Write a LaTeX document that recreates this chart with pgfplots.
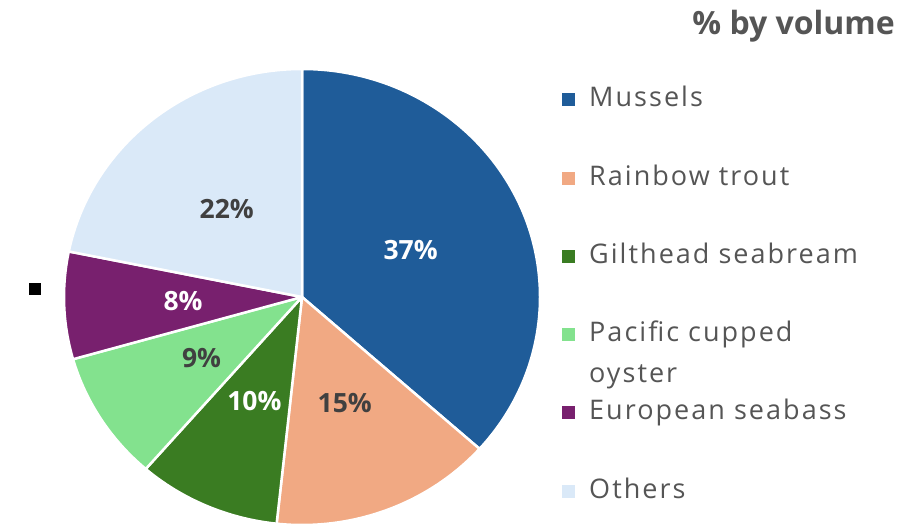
\documentclass[border=0pt]{standalone}
\usepackage{pgfplots}
\pgfplotsset{compat=1.18}
\usepackage{pgfplotstable}
\usepackage{fontspec}
\setmainfont{Open Sans}
\newfontfamily\legfont[LetterSpace=7.5]{Open Sans}
\definecolor{cMus}{HTML}{1F5C99}
\definecolor{cTro}{HTML}{F1A983}
\definecolor{cGil}{HTML}{3A7C22}
\definecolor{cPac}{HTML}{83E28E}
\definecolor{cSea}{HTML}{78206E}
\definecolor{cOth}{HTML}{DAE9F8}
\definecolor{txtgray}{HTML}{555555}
\definecolor{labdark}{HTML}{404040}

% share of volume (percent), fill colour, label colour
\pgfplotstableread[col sep=comma]{
name,value,col,lab
Mussels,36.6,cMus,white
Rainbow trout,15.1,cTro,labdark
Gilthead seabream,9.7,cGil,white
Pacific cupped oyster,9.2,cPac,labdark
European seabass,7.6,cSea,white
Others,21.8,cOth,labdark
}\piedata

\gdef\cum{0}
\foreach \i in {0,...,5}{%
  \pgfplotstablegetelem{\i}{value}\of\piedata
  \pgfmathsetmacro\v{\pgfplotsretval}%
  \pgfplotstablegetelem{\i}{col}\of\piedata
  \expandafter\xdef\csname pC\i\endcsname{\pgfplotsretval}%
  \pgfplotstablegetelem{\i}{lab}\of\piedata
  \expandafter\xdef\csname pT\i\endcsname{\pgfplotsretval}%
  \pgfmathsetmacro\s{90-3.6*\cum}%
  \pgfmathsetmacro\e{90-3.6*(\cum+\v)}%
  \pgfmathsetmacro\m{(\s+\e)/2}%
  \pgfmathsetmacro\sx{302+238*cos(\s)}%
  \pgfmathsetmacro\sy{228+228*sin(\s)}%
  \pgfmathsetmacro\lx{302+0.5*238*cos(\m)}%
  \pgfmathsetmacro\ly{228+0.5*228*sin(\m)}%
  \pgfmathtruncatemacro\r{round(\v)}%
  \expandafter\xdef\csname pS\i\endcsname{\s}%
  \expandafter\xdef\csname pE\i\endcsname{\e}%
  \expandafter\xdef\csname pSX\i\endcsname{\sx}%
  \expandafter\xdef\csname pSY\i\endcsname{\sy}%
  \expandafter\xdef\csname pLX\i\endcsname{\lx}%
  \expandafter\xdef\csname pLY\i\endcsname{\ly}%
  \expandafter\xdef\csname pR\i\endcsname{\r}%
  \pgfmathsetmacro\c{\cum+\v}\xdef\cum{\c}%
}

\begin{document}
\begin{tikzpicture}[x=1pt,y=1pt]
\useasboundingbox (0,0) rectangle (920,525);
\begin{axis}[
  at={(0,0)}, anchor=south west,
  width=920pt, height=525pt, scale only axis,
  xmin=0, xmax=920, ymin=0, ymax=525,
  hide axis, clip=false,
]
\pgfplotsinvokeforeach{0,...,5}{%
  \filldraw[fill=\csname pC#1\endcsname, draw=white, line width=2.5pt, line join=round]
    (axis cs:302,228) -- (axis cs:\csname pSX#1\endcsname,\csname pSY#1\endcsname)
    arc[start angle=\csname pS#1\endcsname, end angle=\csname pE#1\endcsname,
        x radius=238pt, y radius=228pt] -- cycle;
}
\pgfplotsinvokeforeach{0,...,5}{%
  \node[font=\bfseries\fontsize{26.5}{26.5}\selectfont, text=\csname pT#1\endcsname]
    at (axis cs:\csname pLX#1\endcsname,\csname pLY#1\endcsname) {\csname pR#1\endcsname\%};
}
% legend markers
\pgfplotsinvokeforeach{0,...,5}{%
  \fill[\csname pC#1\endcsname] (axis cs:562,{425-78.2*#1-6.5}) rectangle ++(13,13);
}
\begin{scope}[every node/.style={anchor=base west, inner sep=0pt, text=txtgray, font=\legfont\fontsize{27}{41}\selectfont}]
\node at (axis cs:589,418) {Mussels};
\node at (axis cs:589,339.8) {Rainbow trout};
\node at (axis cs:589,261.6) {Gilthead seabream};
\node[align=left] at (axis cs:589,142.4) {Pacific cupped\\oyster};
\node at (axis cs:589,105.2) {European seabass};
\node at (axis cs:589,27) {Others};
\end{scope}
\node[anchor=base east, inner sep=0pt, text=txtgray, font=\bfseries\fontsize{32}{32}\selectfont] at (axis cs:895,490) {\% by volume};
\addplot[only marks, mark=square*, mark size=5.5pt, black] coordinates {(34.5,236)};
\end{axis}
\end{tikzpicture}
\end{document}
